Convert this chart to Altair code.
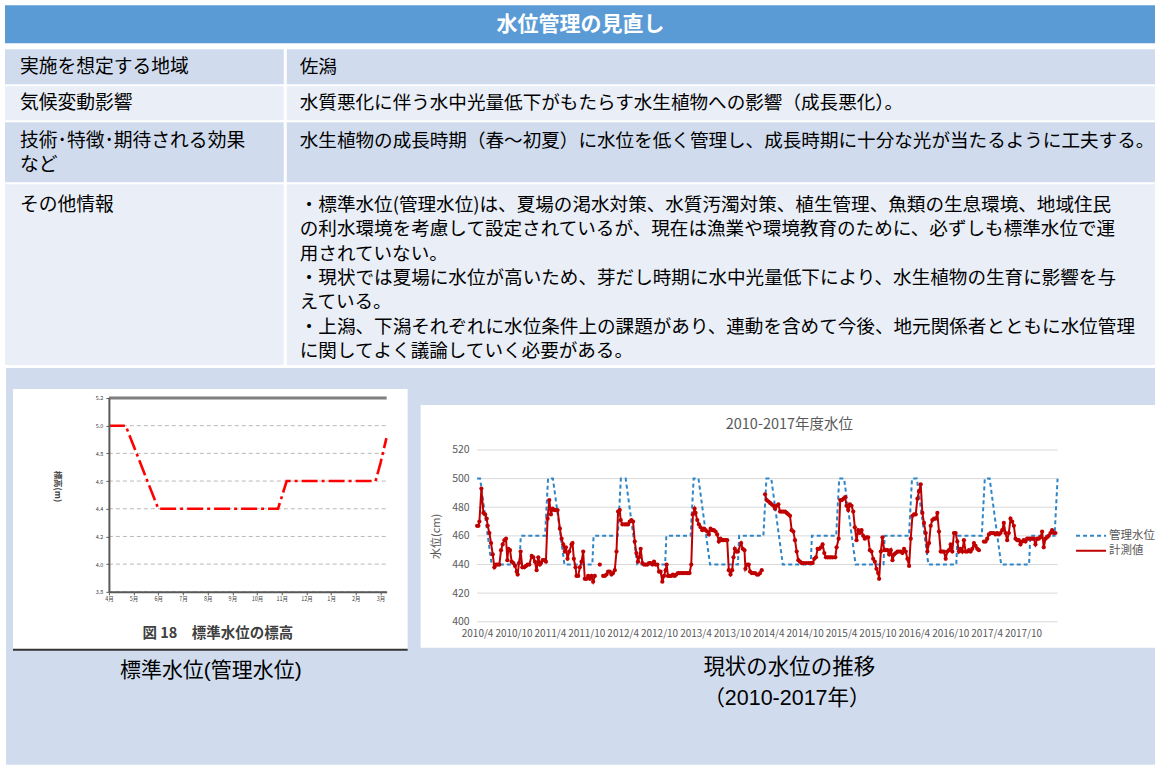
import altair as alt
import pandas as pd

FONT = "Noto Sans CJK JP"
LATIN = "Liberation Sans, Noto Sans CJK JP"

# ---------------- text content ----------------
page_title = "水位管理の見直し"
row_heads = ["実施を想定する地域", "気候変動影響", "技術･特徴･期待される効果\nなど", "その他情報"]
row_bodies = [
    "佐潟",
    "水質悪化に伴う水中光量低下がもたらす水生植物への影響（成長悪化）。",
    "水生植物の成長時期（春～初夏）に水位を低く管理し、成長時期に十分な光が当たるように工夫する。",
]
other_info = [
    "・標準水位(管理水位)は、夏場の渇水対策、水質汚濁対策、植生管理、魚類の生息環境、地域住民",
    "の利水環境を考慮して設定されているが、現在は漁業や環境教育のために、必ずしも標準水位で運",
    "用されていない。",
    "・現状では夏場に水位が高いため、芽だし時期に水中光量低下により、水生植物の生育に影響を与",
    "えている。",
    "・上潟、下潟それぞれに水位条件上の課題があり、連動を含めて今後、地元関係者とともに水位管理",
    "に関してよく議論していく必要がある。",
]
fig18_caption = "図 18　標準水位の標高"
left_caption = "標準水位(管理水位)"
right_caption = ["現状の水位の推移", "（2010-2017年）"]
right_title = "2010-2017年度水位"
series_names = ["管理水位", "計測値"]

# ---------------- fig 18 (standard level, m) ----------------
std_month = [0.0, 0.68, 2.0, 6.85, 7.2, 10.8, 11.0, 11.24]   # months after 1 April
std_level = [5.0, 5.0, 4.4, 4.4, 4.6, 4.6, 4.73, 4.91]
month_ticks = list(range(12))
level_ticks = [3.8, 4.0, 4.2, 4.4, 4.6, 4.8, 5.0, 5.2]
month_span = [0, 11.25]

# ---------------- 2010-2017 levels (months after 2010/4, cm) ----------------
mgmt = [(0, 500), (0.5, 500), (2.4, 440), (7.0, 440), (7.2, 460), (11.2, 460),
        (11.7, 500), (12.5, 500), (14.4, 440), (19.0, 440), (19.2, 460), (23.2, 460),
        (23.7, 500), (24.5, 500), (26.4, 440), (31.0, 440), (31.2, 460), (35.2, 460),
        (35.7, 500), (36.5, 500), (38.4, 440), (43.0, 440), (43.2, 460), (47.2, 460),
        (47.7, 500), (48.5, 500), (50.4, 440), (55.0, 440), (55.2, 460), (59.2, 460),
        (59.7, 500), (60.5, 500), (62.4, 440), (67.0, 440), (67.2, 460), (71.2, 460),
        (71.7, 500), (72.5, 500), (74.4, 440), (79.0, 440), (79.2, 460), (83.2, 460),
        (83.7, 500), (84.5, 500), (86.4, 440), (91.0, 440), (91.2, 460), (95.2, 460),
        (95.7, 500)]

meas_a = [(0.0, 467), (0.22, 467), (0.38, 470), (0.71, 493), (1.04, 476), (1.32, 475),
          (1.59, 472), (1.75, 467), (2.03, 462), (2.30, 455), (2.58, 447), (2.85, 438),
          (3.13, 440), (3.40, 440), (3.67, 440), (3.95, 450), (4.22, 454), (4.50, 457),
          (4.77, 458), (4.99, 443), (5.15, 451), (5.43, 450), (5.70, 442), (5.98, 441),
          (6.25, 439), (6.53, 435), (6.69, 433), (6.91, 441), (7.18, 449), (7.46, 438),
          (7.79, 438), (8.06, 439), (8.33, 440), (8.61, 440), (9.00, 446), (9.27, 445),
          (9.54, 442), (9.81, 436), (10.09, 445), (10.36, 440), (10.53, 441), (10.80, 443),
          (11.07, 443), (11.35, 442), (11.62, 472), (11.90, 485), (12.17, 475), (12.45, 479),
          (12.72, 478), (12.99, 478), (13.27, 478), (13.65, 465), (13.93, 458), (14.20, 454),
          (14.47, 449), (14.64, 452), (14.91, 444), (15.19, 449), (15.57, 454), (15.73, 455),
          (15.95, 444), (16.23, 438), (16.39, 432), (16.67, 432), (16.94, 438), (17.22, 442),
          (17.49, 449), (17.76, 430), (18.04, 430), (18.31, 432), (18.59, 430), (18.86, 432),
          (19.13, 428), (19.41, 432)]
meas_b = [(20.23, 440)]
meas_c = [(20.78, 432), (21.05, 432), (21.33, 433), (21.60, 435), (21.88, 435), (22.15, 433),
          (22.42, 434), (22.70, 436), (22.98, 449), (23.24, 477), (23.52, 478), (23.68, 471),
          (23.96, 468), (24.34, 468), (24.62, 468), (24.89, 468), (25.16, 470), (25.44, 471),
          (25.71, 470), (25.99, 456), (26.26, 448), (26.53, 442), (26.70, 445), (26.97, 451),
          (27.25, 441), (27.52, 440), (27.80, 440), (28.07, 440), (28.34, 441), (28.62, 441),
          (28.90, 440), (29.17, 442), (29.44, 440), (29.72, 440), (29.99, 435), (30.26, 435),
          (30.54, 428), (30.81, 432), (31.09, 436), (31.25, 440), (31.47, 432), (31.74, 432),
          (32.02, 432), (32.29, 433), (32.57, 432), (32.84, 433), (33.11, 434), (33.39, 434),
          (33.66, 434), (33.93, 434), (34.21, 434), (34.49, 434), (34.76, 434), (35.03, 434),
          (35.31, 440), (35.58, 475), (35.86, 479), (36.02, 476), (36.30, 471), (36.57, 468),
          (36.84, 466), (37.12, 464), (37.39, 465), (37.66, 464), (37.94, 463), (38.21, 461),
          (38.49, 465), (38.76, 464), (39.03, 464), (39.31, 463), (39.58, 461), (39.86, 456),
          (40.13, 458), (40.41, 457), (40.68, 457), (40.95, 457), (41.23, 457), (41.50, 436),
          (41.78, 433), (42.05, 436), (42.27, 445), (42.49, 451), (42.71, 449), (42.98, 449),
          (43.53, 455), (43.80, 451), (44.08, 450), (44.24, 437), (44.52, 440), (44.79, 440),
          (45.01, 435), (45.28, 434), (45.56, 434), (45.83, 434), (46.11, 433), (46.38, 433),
          (46.66, 434), (46.93, 436)]
meas_d = [(47.48, 489), (47.75, 485), (48.03, 484), (48.30, 483), (48.57, 482), (48.85, 481),
          (49.12, 479), (49.40, 481), (49.67, 482), (49.95, 477), (50.22, 477), (50.49, 477),
          (50.77, 477), (51.04, 476), (51.32, 475), (51.59, 474), (51.86, 464), (52.14, 463),
          (52.41, 457), (52.69, 449), (52.96, 443), (53.24, 442), (53.51, 441), (53.78, 441),
          (54.22, 441), (54.66, 441), (55.04, 441), (55.32, 441), (55.59, 444), (55.87, 445),
          (56.14, 451), (56.41, 451), (56.69, 452), (56.96, 454), (57.24, 448), (57.51, 445),
          (57.79, 445), (58.06, 445), (58.33, 445), (58.61, 445), (59.05, 445), (59.27, 452),
          (59.60, 458), (59.87, 485), (60.14, 485), (60.42, 486), (60.69, 487), (60.91, 481),
          (61.18, 478), (61.46, 482), (61.73, 481), (62.01, 477), (62.28, 466), (62.56, 457),
          (62.83, 464), (63.10, 462), (63.38, 464), (63.65, 460), (63.92, 458), (64.20, 459),
          (64.47, 459), (64.75, 450), (65.02, 449), (65.30, 444), (65.57, 442), (65.84, 437),
          (66.12, 434), (66.28, 430), (66.56, 449), (66.83, 459), (67.11, 450), (67.38, 450),
          (67.65, 450), (67.93, 447), (68.20, 450), (68.48, 443), (68.75, 447), (69.02, 448),
          (69.30, 449), (69.57, 449), (69.85, 449), (70.12, 448), (70.39, 451), (70.67, 449),
          (70.94, 444), (71.22, 439), (71.49, 458), (71.77, 474), (72.04, 475), (72.31, 475),
          (72.59, 486), (72.86, 491), (73.14, 496), (73.41, 476), (73.68, 469), (73.96, 462),
          (74.23, 449), (74.51, 455), (74.78, 467), (75.05, 471), (75.33, 472), (75.60, 472),
          (75.88, 476), (76.15, 463), (76.43, 449), (76.70, 449), (76.97, 449), (77.25, 444),
          (77.52, 449), (77.80, 450), (78.07, 454), (78.34, 449), (78.62, 462), (78.89, 462),
          (79.17, 456), (79.44, 449), (79.72, 451), (79.99, 449), (80.26, 457), (80.54, 449),
          (80.81, 449), (81.09, 450), (81.36, 449), (81.63, 451), (81.91, 455), (82.18, 453),
          (82.46, 451), (82.73, 450)]
meas_e = [(83.55, 456), (83.83, 456), (84.10, 458), (84.38, 461), (84.65, 462), (84.93, 462),
          (85.20, 462), (85.47, 461), (85.75, 462), (86.02, 461), (86.29, 462), (86.57, 464),
          (86.84, 469), (87.12, 462), (87.39, 457), (87.66, 462), (87.94, 472), (88.21, 470),
          (88.49, 467), (88.76, 458), (89.04, 457), (89.31, 457), (89.58, 454), (89.86, 456),
          (90.13, 457), (90.41, 456), (90.68, 458), (90.95, 458), (91.23, 458), (91.50, 458),
          (91.78, 458), (92.05, 454), (92.33, 458), (92.60, 458), (92.87, 459), (93.15, 463),
          (93.42, 452), (93.70, 458), (93.97, 459), (94.24, 460), (94.52, 462), (94.79, 464),
          (95.07, 462), (95.34, 462)]
meas_segments = [meas_a, meas_b, meas_c, meas_d, meas_e]
cm_ticks = [400, 420, 440, 460, 480, 500, 520]
half_year_ticks = list(range(0, 91, 6))
time_span = [0, 95.7]

# ---------------- page layout (pixels) ----------------
BAND1, BAND2, HEAD = "#D0DCEE", "#E9EEF7", "#5B9BD5"
cells = pd.DataFrame([
    (5, 1156, 5, 43, HEAD),
    (5, 284, 49, 84, BAND1), (287, 1156, 49, 84, BAND1),
    (5, 284, 86, 120, BAND2), (287, 1156, 86, 120, BAND2),
    (5, 284, 122, 182, BAND1), (287, 1156, 122, 182, BAND1),
    (5, 284, 184, 365, BAND2), (287, 1156, 184, 365, BAND2),
    (6, 1156, 368, 765, BAND1),
    (13, 408, 389, 650, "#FFFFFF"),
    (13, 408, 649, 651, "#333333"),
    (421, 1156, 405, 648, "#FFFFFF"),
], columns=["x0", "x1", "y0", "y1", "fill"])
# y of the first line of each text block
head_xy = [(20, 67), (20, 103), (20, 141), (20, 205)]
body_xy = [(300, 67), (300, 103), (300, 141)]
other_xy = [(300, 205)]

LX = alt.Scale(domain=[0, 1156], range=[0, 1156], nice=False, zero=False)
LY = alt.Scale(domain=[0, 765], range=[0, 765], nice=False, zero=False)


def text_layer(texts, xy, **props):
    df = pd.DataFrame({"t": texts, "px": [p[0] for p in xy], "py": [p[1] for p in xy]})
    base = dict(baseline="middle", align="left", font=FONT, color="#000000",
                lineBreak="\n", lineHeight=24.3)
    base.update(props)
    return alt.Chart(df).mark_text(**base).encode(
        x=alt.X("px:Q", scale=LX, axis=None),
        y=alt.Y("py:Q", scale=LY, axis=None),
        text="t:N",
    )


bg = alt.Chart(cells).mark_rect().encode(
    x=alt.X("x0:Q", scale=LX, axis=None), x2="x1",
    y=alt.Y("y0:Q", scale=LY, axis=None), y2="y1",
    color=alt.Color("fill:N", scale=None),
)

texts = [
    text_layer([page_title], [(581, 25)], align="center", color="#FFFFFF", fontWeight="bold", fontSize=21),
    text_layer(row_heads, head_xy, fontSize=18.8, lineHeight=24),
    text_layer(row_bodies, body_xy, fontSize=18.6),
    text_layer(["\n".join(other_info)], other_xy, fontSize=18.6),
    text_layer([fig18_caption], [(218, 634)], align="center", fontSize=14.5, fontWeight="bold", color="#404040"),
    text_layer([left_caption], [(211, 671)], align="center", fontSize=21, font=LATIN),
    text_layer(["\n".join(right_caption)], [(704, 668)], fontSize=21.5, font=LATIN, lineHeight=31),
    text_layer([right_title], [(790, 425)], align="center", fontSize=14.5, color="#595959"),
]

# ---------------- fig 18 ----------------
fx = alt.Scale(domain=month_span, range=[109, 387], nice=False, zero=False)
fy = alt.Scale(domain=[3.8, 5.2], range=[592, 398], nice=False, zero=False)
std_df = pd.DataFrame({"m": std_month, "h": std_level})

grid18_df = pd.DataFrame({"h": level_ticks[:-1], "m0": month_span[0], "m1": month_span[1]})
grid18 = alt.Chart(grid18_df).mark_rule(color="#A6A6A6", strokeWidth=0.8, strokeDash=[4, 3]).encode(
    x=alt.X("m0:Q", scale=fx, axis=None), x2="m1",
    y=alt.Y("h:Q", scale=fy, axis=None),
)
top_df = pd.DataFrame({"h": [level_ticks[-1]], "m0": [month_span[0]], "m1": [month_span[1]]})
top18 = alt.Chart(top_df).mark_rule(color="#7F7F7F", strokeWidth=3).encode(
    x=alt.X("m0:Q", scale=fx, axis=None), x2="m1",
    y=alt.Y("h:Q", scale=fy, axis=None),
)
line18 = alt.Chart(std_df).mark_line(color="#FF0000", strokeWidth=2.6, strokeDash=[16, 4, 3, 4]).encode(
    x=alt.X("m:Q", scale=fx, axis=alt.Axis(
        orient="bottom", offset=-173, values=month_ticks, zindex=1,
        labelExpr="((datum.value + 3) % 12 + 1) + '月'",
        domainColor="#595959", domainWidth=2, tickColor="#595959", tickSize=3,
        labelPadding=2, labelFontSize=5.5, labelColor="#404040", labelFont=FONT,
        labelFlush=False, labelOverlap=False, grid=False, title=None)),
    y=alt.Y("h:Q", scale=fy, axis=alt.Axis(
        orient="left", offset=-109, values=level_ticks, format=".1f", zindex=1,
        domainColor="#595959", domainWidth=2, tickColor="#595959", tickSize=3,
        labelPadding=3, labelFontSize=5.5, labelColor="#404040", labelFont=FONT,
        grid=False,
        title="標高(m)", titleFont=FONT, titleFontSize=8.5, titleFontWeight="bold",
        titleColor="#404040", titleAngle=90, titleX=-56, titleY=486)),
)

# ---------------- 2010-2017 chart ----------------
rx = alt.Scale(domain=time_span, range=[477.5, 1058.5], nice=False, zero=False)
ry = alt.Scale(domain=[400, 520], range=[622, 450], nice=False, zero=False)

mg_df = pd.DataFrame({"t": [p[0] for p in mgmt], "v": [p[1] for p in mgmt],
                      "series": series_names[0], "seg": 0})
rows = []
for i, seg in enumerate(meas_segments):
    for t, v in seg:
        rows.append({"t": t, "v": v, "series": series_names[1], "seg": i + 1})
ms_df = pd.DataFrame(rows)

color_scale = alt.Scale(domain=series_names, range=["#2E86C8", "#C00000"])
dash_scale = alt.Scale(domain=series_names, range=[[4, 3], [1, 0]])
leg = alt.Legend(orient="none", legendX=1083.5, legendY=527.5, title=None, padding=0,
                 labelFont=FONT, labelFontSize=11.5, labelColor="#595959",
                 symbolType="M-2,0H2", symbolSize=225, symbolStrokeWidth=2,
                 symbolFillColor="transparent",
                 rowPadding=1, labelOffset=9.5)

x_axis = alt.Axis(orient="bottom", offset=-143, values=half_year_ticks, zindex=1,
                  labelExpr="(2010 + floor((datum.value + 3) / 12)) + '/' + ((datum.value + 3) % 12 + 1)",
                  domain=False, ticks=False, labelPadding=7,
                  labelFontSize=10, labelColor="#595959", labelFont=FONT,
                  labelOverlap=False, labelFlush=False, grid=False, title=None)
y_axis = alt.Axis(orient="left", offset=-477.5, values=cm_ticks, domain=False, ticks=False, zindex=1,
                  labelPadding=8, labelFontSize=10.5, labelColor="#595959", labelFont=FONT,
                  grid=False,
                  title="水位(cm)", titleFont=FONT, titleFontSize=11, titleFontWeight="normal",
                  titleColor="#595959", titleAngle=270, titleX=-36, titleY=536)

grid_df = pd.DataFrame({"v": cm_ticks, "t0": time_span[0], "t1": time_span[1]})
r_grid = alt.Chart(grid_df).mark_rule(color="#D9D9D9", strokeWidth=1).encode(
    x=alt.X("t0:Q", scale=rx, axis=x_axis), x2="t1",
    y=alt.Y("v:Q", scale=ry, axis=y_axis),
)
mg_line = alt.Chart(mg_df).mark_line(strokeWidth=2).encode(
    x=alt.X("t:Q", scale=rx, axis=None),
    y=alt.Y("v:Q", scale=ry, axis=None),
    color=alt.Color("series:N", scale=color_scale, legend=leg),
    strokeDash=alt.StrokeDash("series:N", scale=dash_scale, legend=leg),
    detail="seg:N",
)
ms_line = alt.Chart(ms_df).mark_line(strokeWidth=2).encode(
    x=alt.X("t:Q", scale=rx, axis=None),
    y=alt.Y("v:Q", scale=ry, axis=None),
    color=alt.Color("series:N", scale=color_scale, legend=leg),
    strokeDash=alt.StrokeDash("series:N", scale=dash_scale, legend=leg),
    detail="seg:N",
)
ms_pts = alt.Chart(ms_df).mark_circle(size=18, color="#C00000", opacity=1).encode(
    x=alt.X("t:Q", scale=rx, axis=None),
    y=alt.Y("v:Q", scale=ry, axis=None),
)

chart = alt.layer(
    bg, grid18, top18, line18, r_grid, mg_line, ms_line, ms_pts, *texts
).resolve_scale(
    x="independent", y="independent"
).properties(
    width=1156, height=765, padding=0, background="#FFFFFF",
).configure(font=FONT).configure_view(stroke=None)

chart.save("out.html", embed_options={"renderer": "svg", "actions": False})
